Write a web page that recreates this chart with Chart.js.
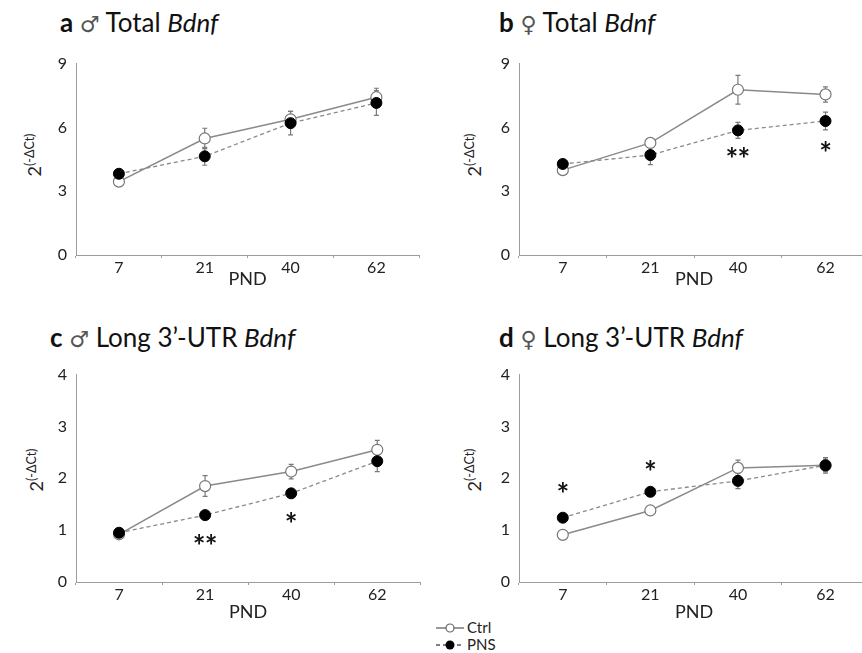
<!DOCTYPE html>
<html><head><meta charset="utf-8">
<script src="https://cdn.jsdelivr.net/npm/chart.js@4"></script>
<style>
html,body{margin:0;padding:0;background:#fff;overflow:hidden;width:862px;height:653px;}
body{position:relative;font-family:Lato,"Open Sans",sans-serif;color:#111;}
canvas{position:absolute;}
.ttl{position:absolute;white-space:nowrap;line-height:1;color:#111;font-size:26px;}
.ttl b{font-weight:700;}
.ttl i{font-style:italic;}
.sym{font-family:"DejaVu Sans";font-weight:normal;color:#555;font-size:0.85em;}
.ytitle{position:absolute;transform:translate(-50%,-50%) rotate(-90deg);white-space:nowrap;font-size:18px;color:#222;line-height:1;}
.ytitle sup{font-size:12.5px;vertical-align:7px;}
.legend{position:absolute;left:436px;top:619px;font-size:15px;color:#222;line-height:17px;}
.legend div{display:flex;align-items:center;height:17px;}
.legend svg{margin-right:3px;}
</style></head>
<body>
<div class="ttl" style="left:60px;top:9px;"><b>a</b> <span class="sym">♂</span> Total <i>Bdnf</i></div>
<div class="ttl" style="left:499px;top:9px;"><b>b</b> <span class="sym">♀</span> Total <i>Bdnf</i></div>
<div class="ttl" style="left:50px;top:324px;"><b>c</b> <span class="sym">♂</span> Long 3’-UTR <i>Bdnf</i></div>
<div class="ttl" style="left:499px;top:324px;"><b>d</b> <span class="sym">♀</span> Long 3’-UTR <i>Bdnf</i></div>
<div class="ytitle" style="left:33px;top:155px;">2<sup>(-ΔCt)</sup></div>
<div class="ytitle" style="left:473px;top:155px;">2<sup>(-ΔCt)</sup></div>
<div class="ytitle" style="left:35px;top:470px;">2<sup>(-ΔCt)</sup></div>
<div class="ytitle" style="left:473px;top:470px;">2<sup>(-ΔCt)</sup></div>
<div class="legend">
  <div><svg width="28" height="12"><line x1="0" y1="6" x2="28" y2="6" stroke="#777" stroke-width="1.5"/><circle cx="14" cy="6" r="4" fill="#fff" stroke="#666" stroke-width="1.2"/></svg>Ctrl</div>
  <div><svg width="28" height="12"><line x1="0" y1="6" x2="28" y2="6" stroke="#555" stroke-width="1.5" stroke-dasharray="4,3"/><circle cx="14" cy="6" r="4.5" fill="#000"/></svg>PNS</div>
</div>
<script>
// ---------- data ----------
const categories = ['7', '21', '40', '62'];

const aCtrl    = [3.45, 5.48, 6.38, 7.42];
const aCtrlErr = [0.20, 0.48, 0.38, 0.42];
const aPNS     = [3.82, 4.64, 6.20, 7.15];
const aPNSErr  = [0.10, 0.42, 0.55, 0.58];

const bCtrl    = [3.99, 5.27, 7.77, 7.55];
const bCtrlErr = [0.20, 0.22, 0.68, 0.36];
const bPNS     = [4.28, 4.70, 5.86, 6.30];
const bPNSErr  = [0.12, 0.45, 0.38, 0.42];

const cCtrl    = [0.92, 1.85, 2.13, 2.55];
const cCtrlErr = [0.05, 0.20, 0.14, 0.18];
const cPNS     = [0.95, 1.29, 1.71, 2.33];
const cPNSErr  = [0.03, 0.04, 0.04, 0.20];

const dCtrl    = [0.91, 1.38, 2.20, 2.25];
const dCtrlErr = [0.03, 0.08, 0.15, 0.12];
const dPNS     = [1.24, 1.74, 1.95, 2.25];
const dPNSErr  = [0.04, 0.06, 0.15, 0.15];

// significance marks: [category, y value, text]
const bStars = [['40', 4.77, '**'], ['62', 5.05, '*']];
const cStars = [['21', 0.80, '**'], ['40', 1.22, '*']];
const dStars = [['7', 1.81, '*'], ['21', 2.23, '*']];

const totalMax = 9, totalStep = 3;
const longMax = 4, longStep = 1;

// ---------- plugins ----------
const errPlugin = {
  id: 'errbars',
  beforeDatasetsDraw(chart) {
    const ctx = chart.ctx, ys = chart.scales.y;
    chart.data.datasets.forEach((ds, di) => {
      const meta = chart.getDatasetMeta(di);
      ctx.save();
      ctx.strokeStyle = '#7a7a7a';
      ctx.lineWidth = 1.2;
      meta.data.forEach((pt, i) => {
        const v = ds.data[i], e = ds.err[i];
        const x = pt.x;
        const y1 = ys.getPixelForValue(v + e), y2 = ys.getPixelForValue(v - e);
        ctx.beginPath();
        ctx.moveTo(x, y1); ctx.lineTo(x, y2);
        ctx.moveTo(x - 2.5, y1); ctx.lineTo(x + 2.5, y1);
        ctx.moveTo(x - 2.5, y2); ctx.lineTo(x + 2.5, y2);
        ctx.stroke();
      });
      ctx.restore();
    });
  }
};
const starPlugin = {
  id: 'stars',
  afterDatasetsDraw(chart, args, opts) {
    const items = opts.items || [];
    const ctx = chart.ctx;
    ctx.save();
    ctx.fillStyle = '#111';
    ctx.font = 'bold 30px Lato, sans-serif';
    ctx.textAlign = 'center';
    ctx.textBaseline = 'middle';
    items.forEach(([cat, v, t]) => {
      const x = chart.scales.x.getPixelForValue(categories.indexOf(cat));
      const y = chart.scales.y.getPixelForValue(v);
      const n = t.length, gap = 12;
      for (let k = 0; k < n; k++) {
        ctx.fillText('*', x + (k - (n - 1) / 2) * gap, y + 7);
      }
    });
    ctx.restore();
  }
};

const YW = 40, PT = 12, PR = 4;
function makePanel(geom, ctrl, ctrlErr, pns, pnsErr, yMax, yStep, stars, XH) {
  const cv = document.createElement('canvas');
  const left = geom.left - YW, top = geom.top - PT;
  const w = Math.round(geom.right - left + PR), h = Math.round(geom.bottom + XH - top);
  cv.width = w; cv.height = h;
  cv.style.left = left + 'px'; cv.style.top = top + 'px';
  cv.style.width = w + 'px'; cv.style.height = h + 'px';
  document.body.appendChild(cv);
  const axisCol = '#9c9c9c';
  new Chart(cv, {
    type: 'line',
    data: {
      labels: categories,
      datasets: [
        { label: 'Ctrl', data: ctrl, err: ctrlErr, borderColor: '#8a8a8a', borderWidth: 1.5,
          pointRadius: 5.5, pointBackgroundColor: '#fff', pointBorderColor: '#777', pointBorderWidth: 1.2,
          tension: 0, order: 1 },
        { label: 'PNS', data: pns, err: pnsErr, borderColor: '#8a8a8a', borderWidth: 1.3, borderDash: [4, 3],
          pointRadius: 5.5, pointBackgroundColor: '#000', pointBorderColor: '#000', pointBorderWidth: 1,
          tension: 0, order: 0 }
      ]
    },
    options: {
      responsive: false, animation: false, devicePixelRatio: 1,
      layout: { padding: { top: PT, right: PR, left: 0, bottom: 0 } },
      plugins: { legend: { display: false }, tooltip: { enabled: false }, stars: { items: stars } },
      scales: {
        x: {
          type: 'category', offset: true,
          grid: { offset: true, drawOnChartArea: false, tickLength: 3, color: axisCol },
          border: { color: axisCol, width: 1 },
          ticks: { color: '#222', font: { family: 'Lato', size: 16 }, padding: 0 },
          title: { display: true, text: 'PND', color: '#222', font: { family: 'Lato', size: 18 }, padding: 0 },
          afterFit(s) { s.height = XH; }
        },
        y: {
          min: 0, max: yMax,
          ticks: { stepSize: yStep, color: '#222', font: { family: 'Lato', size: 16 }, padding: 9 },
          grid: { drawOnChartArea: false, drawTicks: false },
          border: { color: axisCol, width: 1 },
          afterFit(s) { s.width = YW; }
        }
      }
    },
    plugins: [errPlugin, starPlugin]
  });
}

makePanel({ left: 76, top: 57, right: 421.5, bottom: 255 }, aCtrl, aCtrlErr, aPNS, aPNSErr, totalMax, totalStep, [], 35);
makePanel({ left: 519, top: 57, right: 872, bottom: 255 }, bCtrl, bCtrlErr, bPNS, bPNSErr, totalMax, totalStep, bStars, 35);
makePanel({ left: 76, top: 368, right: 423, bottom: 582 }, cCtrl, cCtrlErr, cPNS, cPNSErr, longMax, longStep, cStars, 41);
makePanel({ left: 519, top: 368, right: 872, bottom: 582 }, dCtrl, dCtrlErr, dPNS, dPNSErr, longMax, longStep, dStars, 41);
</script>
</body></html>
